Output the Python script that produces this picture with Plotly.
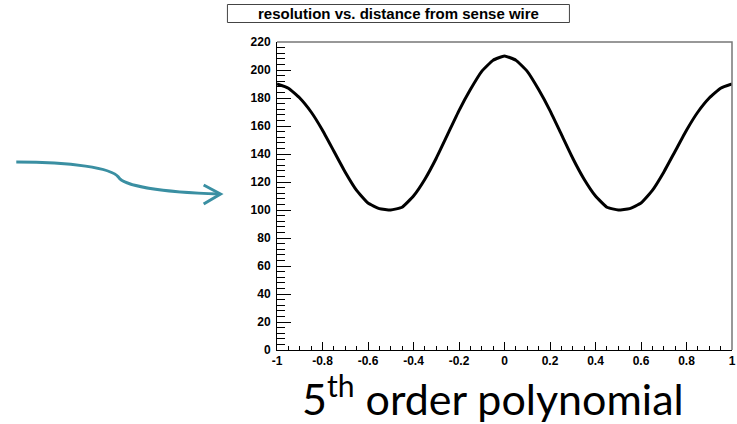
import plotly.graph_objects as go

# ---- data ----
distance = [-1.0, -0.95, -0.9, -0.85, -0.8, -0.75, -0.7, -0.65, -0.6, -0.55, -0.5,
            -0.45, -0.4, -0.35, -0.3, -0.25, -0.2, -0.15, -0.1, -0.05, 0.0,
            0.05, 0.1, 0.15, 0.2, 0.25, 0.3, 0.35, 0.4, 0.45, 0.5,
            0.55, 0.6, 0.65, 0.7, 0.75, 0.8, 0.85, 0.9, 0.95, 1.0]
resolution = [190, 187, 180, 170, 157, 142, 127, 114, 105, 101, 100,
              102, 110, 122, 137, 154, 171, 186, 199, 207, 210,
              207, 199, 186, 171, 154, 137, 122, 110, 102, 100,
              101, 105, 114, 127, 142, 157, 170, 180, 187, 190]
x_ticks = [-1, -0.8, -0.6, -0.4, -0.2, 0, 0.2, 0.4, 0.6, 0.8, 1]
x_ticklabels = ["-1", "-0.8", "-0.6", "-0.4", "-0.2", "0", "0.2", "0.4", "0.6", "0.8", "1"]
y_ticks = [0, 20, 40, 60, 80, 100, 120, 140, 160, 180, 200, 220]
title_text = "resolution vs. distance from sense wire"
caption_text = "5<sup>th</sup> order polynomial"

# ---- layout geometry ----
W, H = 737, 424
L, R, T, B = 277, 1, 42, 74
PW, PH = W - L - R, H - T - B


def px(x):
    return (x - L) / PW


def py(y):
    return (H - B - y) / PH


fig = go.Figure()
fig.add_trace(go.Scatter(x=distance, y=resolution, mode="lines",
                         line=dict(color="black", width=3, shape="spline", smoothing=0.4),
                         hoverinfo="skip", showlegend=False))

tickfont = dict(family="Liberation Sans", size=12, color="black", weight="bold")
fig.update_xaxes(range=[-1, 1], tickvals=x_ticks, ticktext=x_ticklabels,
                 ticks="inside", ticklen=8, tickcolor="black", tickwidth=1,
                 minor=dict(ticks="inside", ticklen=4, dtick=0.05, tickcolor="black"),
                 showgrid=False, zeroline=False, showline=True, linecolor="black",
                 linewidth=1, tickfont=tickfont, ticklabelstandoff=0,
                 ticklabeloverflow="allow")
fig.update_yaxes(range=[0, 220], tickvals=y_ticks,
                 ticks="inside", ticklen=14, tickcolor="black", tickwidth=1,
                 minor=dict(ticks="inside", ticklen=8, dtick=4, tickcolor="black"),
                 showgrid=False, zeroline=False, showline=True, linecolor="black",
                 linewidth=1, tickfont=tickfont, ticklabelstandoff=3,
                 ticklabeloverflow="allow")

shapes = []
# plot frame top/right in grey
shapes.append(dict(type="path", xref="paper", yref="paper",
                   path="M0,1 L1,1 L1,0", line=dict(color="#777777", width=1.5)))
# title box
shapes.append(dict(type="rect", xref="paper", yref="paper",
                   x0=px(227), x1=px(572), y0=py(22.5), y1=py(4.5),
                   line=dict(color="#444444", width=1), fillcolor="white"))
# teal arrow
d = f"M{px(14)},{py(162)} "
d += f"C{px(70)},{py(162)} {px(110)},{py(168)} {px(117)},{py(177)} "
d += f"C{px(122)},{py(186)} {px(160)},{py(192)} {px(219)},{py(194)}"
shapes.append(dict(type="path", xref="paper", yref="paper", path=d,
                   line=dict(color="#3a8fa2", width=3)))
shapes.append(dict(type="path", xref="paper", yref="paper",
                   path=f"M{px(203)},{py(185)} L{px(220)},{py(194)} L{px(203)},{py(204)}",
                   line=dict(color="#3a8fa2", width=3)))

annotations = [
    dict(text=f"<b>{title_text}</b>", xref="paper", yref="paper",
         x=px(399.5), y=py(13.5), xanchor="center", yanchor="middle", showarrow=False,
         font=dict(family="Liberation Sans", size=15, color="black")),
    dict(text=caption_text, xref="paper", yref="paper",
         x=px(495), y=py(395), xanchor="center", yanchor="middle", showarrow=False,
         font=dict(family="Lato", size=43, color="black")),
]

fig.update_layout(width=W, height=H, margin=dict(l=L, r=R, t=T, b=B),
                  paper_bgcolor="white", plot_bgcolor="white",
                  shapes=shapes, annotations=annotations, showlegend=False)

fig.write_html("out.html")
